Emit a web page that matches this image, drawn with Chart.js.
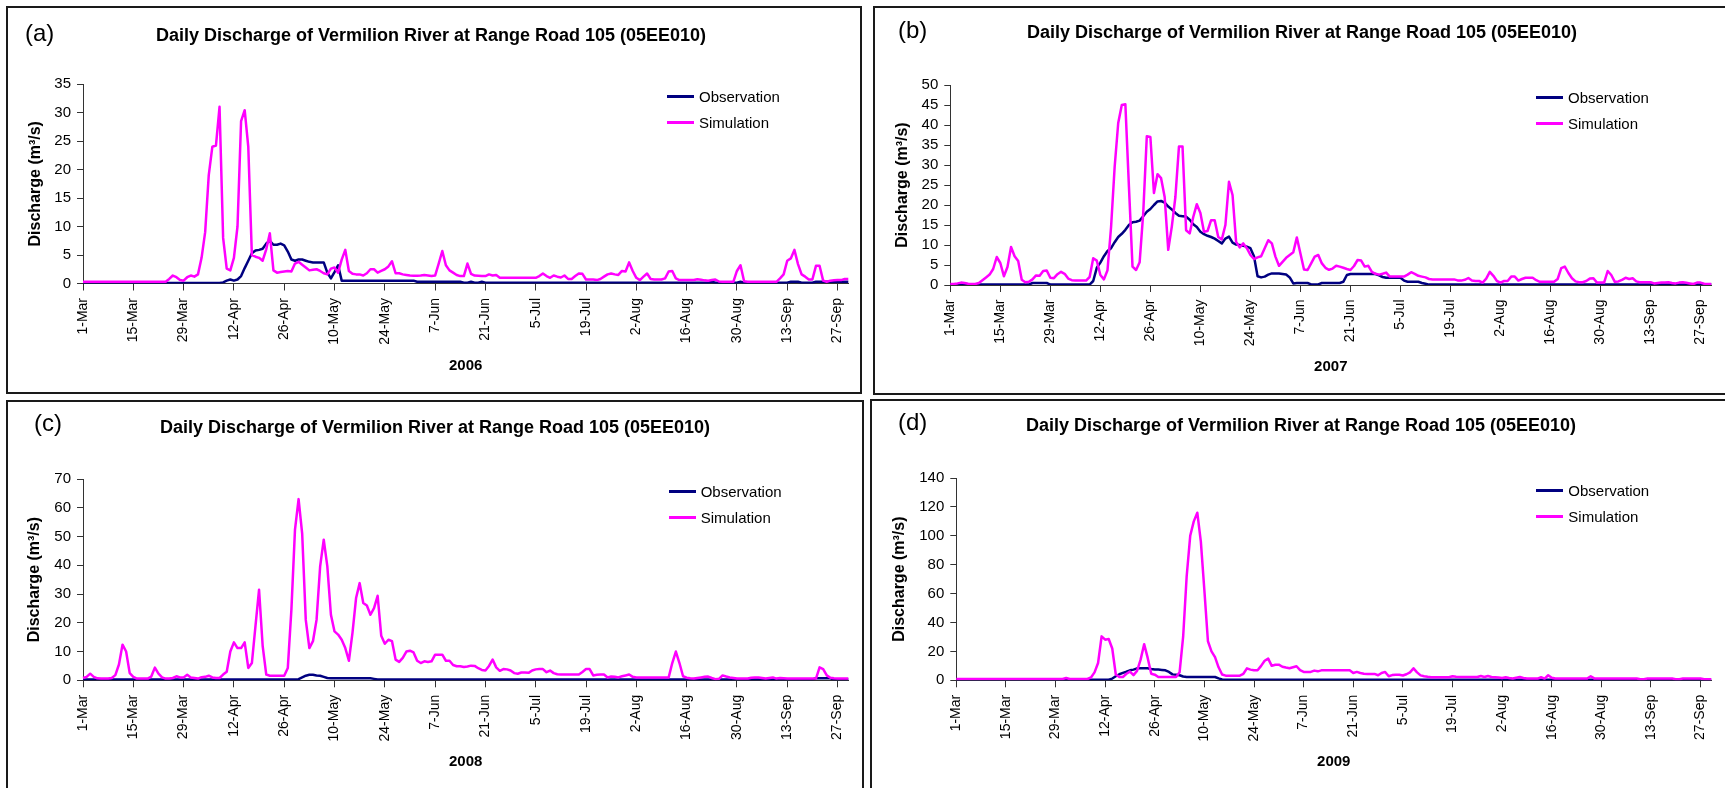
<!DOCTYPE html>
<html>
<head>
<meta charset="utf-8">
<title>Daily Discharge of Vermilion River at Range Road 105 (05EE010)</title>
<script src="https://cdn.jsdelivr.net/npm/chart.js@4.4.1/dist/chart.umd.min.js"></script>
<style>
  html, body { margin: 0; padding: 0; background: #fff; }
  body { width: 1725px; height: 788px; overflow: hidden; position: relative;
         font-family: "Liberation Sans", Arial, sans-serif; color: #000; }
  .frame { position: absolute; box-sizing: border-box; border: 2px solid #1a1a1a; }
  canvas { position: absolute; }
  .tag { position: absolute; font-size: 24px; line-height: 28px; white-space: nowrap; }
  .title { position: absolute; width: 800px; text-align: center; font-size: 18px; font-weight: bold;
           line-height: 22px; white-space: nowrap; }
  .key-line { position: absolute; width: 27px; height: 3px; }
  .key-text { position: absolute; font-size: 15px; line-height: 18px; white-space: nowrap; }
</style>
</head>
<body>
<div class="frame" style="left:6px;top:6px;width:856px;height:388px"></div>
<div class="frame" style="left:873px;top:6px;width:900px;height:389px"></div>
<div class="frame" style="left:6px;top:400px;width:858px;height:420px"></div>
<div class="frame" style="left:870px;top:399px;width:900px;height:420px"></div>
<script>
// Season axis: 1 March to 30 September, one category per day
const months = ['Mar', 'Apr', 'May', 'Jun', 'Jul', 'Aug', 'Sep'];
const monthLengths = [31, 30, 31, 30, 31, 31, 30];
const tickEvery = 14; // a labelled tick every two weeks

const dayLabels = [];
months.forEach((m, k) => {
  for (let d = 1; d <= monthLengths[k]; d++) dayLabels.push(d + '-' + m);
});

// Daily discharge (m3/s), station 05EE010
const obs2006 = [
  0.1,0.1,0.1,0.1,0.1,0.1,0.1,0.1,0.1,0.1,0.1,0.1,0.1,0.1,
  0.1,0.1,0.1,0.1,0.1,0.1,0.1,0.1,0.1,0.1,0.1,0.1,0.1,0.1,
  0.1,0.1,0.1,0.1,0.1,0.1,0.1,0.1,0.1,0.1,0.1,0.2,0.5,0.7,
  0.5,0.7,1.3,2.7,4,5.3,5.8,5.9,6.1,7,7.5,6.8,6.8,7,
  6.7,5.6,4.2,4,4.2,4.2,4,3.8,3.7,3.7,3.7,3.7,1.9,0.9,
  2,3.2,0.5,0.5,0.5,0.5,0.5,0.5,0.5,0.5,0.5,0.5,0.5,0.5,
  0.5,0.5,0.5,0.5,0.5,0.5,0.5,0.5,0.5,0.3,0.3,0.3,0.3,0.3,
  0.3,0.3,0.3,0.3,0.3,0.3,0.3,0.3,0.15,0.15,0.3,0.15,0.15,0.3,
  0.15,0.15,0.15,0.15,0.15,0.15,0.15,0.15,0.15,0.15,0.15,0.15,0.15,0.15,
  0.12,0.12,0.12,0.12,0.12,0.12,0.12,0.12,0.12,0.12,0.12,0.12,0.12,0.12,
  0.12,0.12,0.12,0.12,0.12,0.12,0.12,0.12,0.12,0.12,0.12,0.12,0.12,0.12,
  0.12,0.12,0.12,0.12,0.12,0.12,0.12,0.12,0.12,0.12,0.12,0.12,0.12,0.12,
  0.12,0.12,0.12,0.12,0.12,0.12,0.12,0.3,0.12,0.12,0.12,0.12,0.12,0.12,
  0.12,0.3,0.12,0.12,0.12,0.12,0.12,0.12,0.12,0.12,0.12,0.12,0.12,0.12,
  0.12,0.3,0.3,0.3,0.12,0.12,0.12,0.12,0.3,0.3,0.3,0.3,0.3,0.3,
  0.3,0.3,0.3,0.3
];
const sim2006 = [
  0.3,0.3,0.3,0.3,0.3,0.3,0.3,0.3,0.3,0.3,0.3,0.3,0.3,0.3,
  0.3,0.3,0.3,0.3,0.3,0.3,0.3,0.3,0.3,0.3,0.8,1.4,1.1,0.6,
  0.5,1.1,1.4,1.2,1.6,4.5,9,19,24,24.2,31,8,2.6,2.3,
  4.5,10,28.5,30.4,24,5,4.7,4.5,4,6,8.8,2.3,1.9,2,
  2.1,2.2,2.1,3.5,3.8,3.3,2.8,2.3,2.4,2.5,2.2,1.8,1.6,2.6,
  2.8,1.9,4.2,5.9,2.2,1.7,1.6,1.6,1.4,1.8,2.5,2.5,1.9,2.2,
  2.5,3,3.9,1.8,1.8,1.6,1.5,1.4,1.35,1.35,1.4,1.5,1.4,1.3,
  1.4,3.5,5.7,3.2,2.3,1.9,1.5,1.3,1.3,3.5,1.7,1.4,1.35,1.3,
  1.3,1.6,1.4,1.5,1,1,1,1,1,1,1,1,1,1,
  1,1.3,1.75,1.3,1,1.4,1.2,1.05,1.4,0.8,0.8,1.3,1.75,1.7,
  0.7,0.7,0.7,0.6,0.8,1.2,1.6,1.75,1.6,1.5,2.2,2.1,3.7,2.2,
  1,0.6,1.2,1.75,0.8,0.7,0.7,0.7,0.9,2.1,2.2,0.9,0.6,0.6,
  0.6,0.6,0.6,0.75,0.65,0.55,0.5,0.6,0.7,0.35,0.3,0.3,0.3,0.3,
  2.2,3.2,0.4,0.3,0.3,0.3,0.3,0.3,0.3,0.3,0.3,0.3,0.9,1.6,
  4,4.4,5.9,3.4,1.6,1.2,0.7,0.7,3.1,3.1,0.5,0.3,0.5,0.55,
  0.6,0.6,0.8,0.8
];

const obs2007 = [
  0.1,0.1,0.1,0.1,0.1,0.1,0.1,0.1,0.1,0.1,0.1,0.1,0.1,0.1,
  0.1,0.1,0.1,0.1,0.1,0.1,0.1,0.1,0.1,0.5,0.5,0.5,0.5,0.5,
  0.1,0.1,0.1,0.1,0.1,0.1,0.1,0.1,0.1,0.1,0.1,0.1,1,4.3,
  5.6,7.2,8.5,9.2,10.7,12,12.8,13.8,15,15.7,15.8,16.1,17.2,18.3,
  19,20,20.9,21,20.6,19.6,18.9,18,17.3,17.2,17.1,16.3,15.2,14.5,
  13.3,12.7,12.3,12,11.6,11,10.4,11.6,12.1,10.6,10.1,10,9.8,9.6,
  9.2,7.2,2.2,1.9,2.1,2.6,2.9,2.9,2.9,2.75,2.6,1.9,0.4,0.5,
  0.5,0.5,0.5,0.15,0.15,0.15,0.5,0.5,0.5,0.5,0.5,0.5,0.8,2.5,
  2.75,2.75,2.75,2.75,2.75,2.75,2.75,2.75,2.4,2,1.8,1.8,1.8,1.8,
  1.8,1.1,0.8,0.8,0.8,0.8,0.5,0.3,0.1,0.1,0.1,0.1,0.1,0.1,
  0.1,0.1,0.1,0.1,0.1,0.1,0.1,0.1,0.1,0.1,0.1,0.1,0.1,0.1,
  0.1,0.1,0.1,0.1,0.1,0.1,0.1,0.1,0.1,0.1,0.1,0.1,0.1,0.1,
  0.1,0.1,0.1,0.1,0.1,0.1,0.1,0.1,0.1,0.1,0.1,0.1,0.1,0.1,
  0.1,0.1,0.1,0.1,0.1,0.1,0.1,0.1,0.1,0.1,0.1,0.1,0.1,0.1,
  0.1,0.1,0.1,0.1,0.1,0.1,0.1,0.1,0.1,0.1,0.1,0.1,0.1,0.1,
  0.1,0.1,0.1,0.1
];
const sim2007 = [
  0.25,0.25,0.4,0.6,0.5,0.3,0.25,0.25,0.5,1.2,1.9,2.6,4,7,
  5.5,2.2,4.5,9.5,7.2,6,1.3,0.7,0.8,1.4,2.4,2.3,3.5,3.6,
  1.8,1.7,2.7,3.3,2.8,1.6,1.2,1.1,1.1,1.1,1.1,2,6.7,6.1,
  2.5,1.4,3.7,14.5,29.5,40.5,45,45.2,24.6,4.6,3.75,5.7,18,37.2,
  37,23,27.7,26.7,22,8.8,14.6,22,34.6,34.6,13.7,12.9,17,20.2,
  18,13.3,13.5,16.2,16.2,12,11.4,15,25.8,22.5,10.8,9.4,10.4,9.2,
  7.5,6.5,6.9,7.2,9.2,11.2,10.4,7.1,4.8,5.8,6.8,7.5,8.2,11.9,
  7.9,3.9,3.75,5.4,7.1,7.5,5.4,4.3,3.8,4.1,4.8,4.6,4.3,4,
  3.75,4.75,6.25,6.1,4.6,4.8,3.3,2.8,2.6,2.8,3.1,2.1,2.1,2.1,
  2.1,2.1,2.6,3.2,2.8,2.3,2.1,1.9,1.5,1.4,1.4,1.4,1.4,1.4,
  1.4,1.4,1.15,1.1,1.3,1.75,1.1,1,1,0.6,1.6,3.3,2.3,1,
  0.6,1,1,2.1,2.1,1.1,1.5,1.8,1.8,1.8,1.2,0.8,0.8,0.8,
  0.8,0.8,1.5,4.2,4.6,3,1.7,0.9,0.7,0.7,1,1.6,1.7,0.6,
  0.6,0.6,3.5,2.5,0.8,0.9,1.3,1.8,1.5,1.7,0.9,0.7,0.7,0.7,
  0.7,0.4,0.5,0.6,0.65,0.7,0.5,0.4,0.6,0.7,0.55,0.4,0.25,0.6,
  0.6,0.3,0.25,0.25
];

const obs2008 = [
  0.3,0.3,0.3,0.3,0.3,0.3,0.3,0.3,0.3,0.3,0.3,0.3,0.3,0.3,
  0.3,0.3,0.3,0.3,0.3,0.3,0.3,0.3,0.3,0.3,0.3,0.3,0.3,0.3,
  0.3,0.3,0.3,0.3,0.3,0.3,0.3,0.3,0.3,0.3,0.3,0.3,0.3,0.3,
  0.3,0.3,0.3,0.3,0.3,0.3,0.3,0.3,0.3,0.3,0.3,0.3,0.3,0.3,
  0.3,0.3,0.3,0.3,0.4,1,1.6,1.9,1.9,1.7,1.6,1.2,0.8,0.7,
  0.7,0.7,0.7,0.7,0.7,0.7,0.7,0.7,0.7,0.7,0.7,0.5,0.3,0.3,
  0.3,0.3,0.3,0.3,0.3,0.3,0.3,0.3,0.3,0.3,0.3,0.3,0.3,0.3,
  0.3,0.3,0.3,0.3,0.3,0.3,0.3,0.3,0.3,0.3,0.3,0.3,0.3,0.3,
  0.3,0.3,0.3,0.3,0.3,0.3,0.3,0.3,0.3,0.3,0.3,0.3,0.3,0.3,
  0.3,0.3,0.3,0.3,0.3,0.3,0.3,0.3,0.3,0.3,0.3,0.3,0.3,0.3,
  0.3,0.3,0.3,0.3,0.3,0.3,0.3,0.3,0.3,0.3,0.3,0.3,0.3,0.3,
  0.3,0.3,0.3,0.3,0.3,0.3,0.3,0.3,0.3,0.3,0.3,0.3,0.3,0.3,
  0.3,0.3,0.3,0.3,0.3,0.3,0.3,0.3,0.3,0.3,0.3,0.3,0.3,0.3,
  0.3,0.3,0.3,0.3,0.3,0.3,0.3,0.3,0.3,0.3,0.3,0.3,0.3,0.3,
  0.3,0.3,0.3,0.3,0.3,0.3,0.3,0.3,0.7,0.7,0.7,0.7,0.7,0.3,
  0.3,0.3,0.3,0.3
];
const sim2008 = [
  0.8,1.2,2.3,1.2,0.7,0.6,0.6,0.6,0.8,1.8,5.5,12.4,10,2.5,
  1.2,0.6,0.6,0.6,0.6,1.3,4.4,2.3,1,0.6,0.6,0.8,1.4,1,
  1,1.9,1,0.8,0.6,1.1,1.2,1.6,1,0.8,0.8,2,3,10,
  13.2,11.2,11.2,13.2,4.3,6,18.8,31.5,12,2,1.6,1.6,1.6,1.6,
  1.6,4.3,24.6,52.4,63,51,21,11.2,13.6,21,39.6,48.9,39.6,22.8,
  17,15.9,14.1,11.2,6.8,16.5,28.6,33.8,26.9,26,22.8,25.1,29.4,15.5,
  12.7,14.1,13.6,7.2,6.4,7.8,10,10.3,9.7,6.8,6,6.6,6.4,6.6,
  8.9,8.9,8.9,6.8,6.8,5.3,4.9,4.9,4.6,4.8,5.1,5,4.2,3.6,
  3.4,5,7.2,4.5,3.3,3.9,3.8,3.4,2.5,2.3,2.7,2.7,2.6,3.4,
  3.8,3.9,3.9,2.8,3.4,2.5,2.1,2,2,2,2,2,2,2.9,
  3.9,3.9,1.7,1.9,2,2,1,1.3,1.2,1,1.4,1.7,2,1.2,
  1,1,1,1,1,1,1,1,1,1,6,10,6,1.4,
  0.9,0.7,0.6,0.8,1,1.2,1.3,0.8,0.4,0.5,1.7,1.3,1,0.8,
  0.6,0.6,0.6,0.6,0.9,1,1,0.8,0.6,0.8,1,0.6,0.8,0.7,
  0.6,0.6,0.6,0.6,0.6,0.6,0.6,0.6,0.6,4.5,3.9,1.7,0.9,0.7,
  0.6,0.6,0.6,0.6
];

const obs2009 = [
  0.4,0.4,0.4,0.4,0.4,0.4,0.4,0.4,0.4,0.4,0.4,0.4,0.4,0.4,
  0.4,0.4,0.4,0.4,0.4,0.4,0.4,0.4,0.4,0.4,0.4,0.4,0.4,0.4,
  0.4,0.4,0.4,0.4,0.4,0.4,0.4,0.4,0.4,0.4,0.4,0.4,0.4,0.4,
  0.4,0.4,1.2,2.8,4.2,5.1,5.9,6.9,7.4,8.3,8.3,8.3,8.3,7.8,
  7.4,7.4,7.2,6.9,5.8,4.1,3.9,3.5,2.6,2.3,2.3,2.3,2.3,2.3,
  2.3,2.3,2.3,2.3,1.3,0.6,0.4,0.4,0.4,0.4,0.4,0.4,0.4,0.4,
  0.4,0.4,0.4,0.4,0.4,0.4,0.4,0.4,0.4,0.4,0.4,0.4,0.4,0.4,
  0.4,0.4,0.4,0.4,0.4,0.4,0.4,0.4,0.4,0.4,0.4,0.4,0.4,0.4,
  0.4,0.4,0.4,0.4,0.4,0.4,0.4,0.4,0.4,0.4,0.4,0.4,0.4,0.4,
  0.4,0.4,0.4,0.4,0.4,0.4,0.4,0.4,0.4,0.4,0.4,0.4,0.4,0.4,
  0.4,0.4,0.4,0.4,0.4,0.4,0.4,0.4,0.4,0.4,0.4,0.4,0.4,0.4,
  0.4,0.4,0.4,0.4,0.4,0.4,0.4,0.4,0.4,0.4,0.4,0.4,0.4,0.4,
  0.4,0.4,0.4,0.4,0.4,0.4,0.4,0.4,0.4,0.4,0.4,0.4,0.4,0.4,
  0.4,0.4,0.4,0.4,0.4,0.4,0.4,0.4,0.4,0.4,0.4,0.4,0.4,0.4,
  0.4,0.4,0.4,0.4,0.4,0.4,0.4,0.4,0.4,0.4,0.4,0.4,0.4,0.4,
  0.4,0.4,0.4,0.4
];
const sim2009 = [
  0.9,0.9,0.9,0.9,0.9,0.9,0.9,0.9,0.9,0.9,0.9,0.9,0.9,0.9,
  0.9,0.9,0.9,0.9,0.9,0.9,0.9,0.9,0.9,0.9,0.9,0.9,0.9,0.9,
  0.9,0.9,0.9,1.6,0.9,0.9,0.9,0.9,0.9,0.9,2,5.5,12,30.4,
  28.1,28.6,22,4,2.3,2.3,4.5,6,3.6,6.5,14.3,25,15.5,4.5,
  3.9,2.3,2.3,2.3,2.3,2.3,2.3,5.5,30,72,100,110,116,96,
  62,27,20,16,9,4,3.2,3.2,3.2,3.2,3.2,4.5,8.3,7.4,
  6.9,6.9,10,13.5,15,10,10.8,10.8,9.4,8.8,8.3,9,9.7,7,
  5.8,5.8,5.8,6.7,6.2,6.9,6.9,6.9,6.9,6.9,6.9,6.9,6.9,6.9,
  5.1,5.8,5.1,4.6,4.4,4.4,4.4,3.5,5.1,5.8,2.8,3.6,3.9,3.9,
  3.3,4.2,5.5,8.3,5.5,3.4,2.8,2.4,2.1,2.1,2.1,2.1,2.1,2.1,
  2.8,2.4,2.3,2.3,2.3,2.3,2.3,2.3,3,2.3,3,2.3,2.1,1.9,
  1.6,2.1,1.6,1.2,1.8,2.3,1.6,1.2,1.2,1.2,1.2,2.1,1.2,3.5,
  1.8,1.2,1.2,1.2,1.2,1.2,1.2,1.2,1.2,1.2,1.2,2.8,1.3,1.2,
  1.2,1.2,1.2,1.2,1.2,1.2,1.2,1.2,1.2,1.2,1.2,0.8,0.8,1.2,
  1.2,1.2,1.2,1.2,1.2,1.2,1.2,0.8,0.8,1.2,1.2,1.2,1.2,1.2,
  1.2,0.8,0.8,0.8
];

const seriesNames = ['Observation', 'Simulation'];
const seriesColors = ['#000080', '#ff00ff'];
const chartTitle = 'Daily Discharge of Vermilion River at Range Road 105 (05EE010)';
const yAxisTitle = 'Discharge (m\u00b3/s)';

// One entry per season panel: data sources plus the panel's placement on the page
const panels = [
  { tag: '(a)', year: '2006', obs: obs2006, sim: sim2006, yMax: 35, yStep: 5,
    box: { x: 0, y: 0, w: 862, h: 393 }, plot: { left: 83, top: 84, right: 13, axisH: 109.5 },
    yTitleX: 35.5, xTitleFromBottom: 27,
    tagPos: { x: 25, y: 19 }, titlePos: { cx: 431, y: 23.7 }, key: { x: 667, y: 96.7 } },
  { tag: '(b)', year: '2007', obs: obs2007, sim: sim2007, yMax: 50, yStep: 5,
    box: { x: 862, y: 0, w: 863, h: 393 }, plot: { left: 88.3, top: 85, right: 8.5, axisH: 108 },
    yTitleX: 40.8, xTitleFromBottom: 26.3,
    tagPos: { x: 898, y: 15.7 }, titlePos: { cx: 1302, y: 20.9 }, key: { x: 1536, y: 97.7 } },
  { tag: '(c)', year: '2008', obs: obs2008, sim: sim2008, yMax: 70, yStep: 10,
    box: { x: 0, y: 393, w: 862, h: 395 }, plot: { left: 83, top: 86, right: 11.2, axisH: 107.7 },
    yTitleX: 35, xTitleFromBottom: 25.7,
    tagPos: { x: 34, y: 408.5 }, titlePos: { cx: 435, y: 416.2 }, key: { x: 668.7, y: 491.7 } },
  { tag: '(d)', year: '2009', obs: obs2009, sim: sim2009, yMax: 140, yStep: 20,
    box: { x: 862, y: 393, w: 863, h: 395 }, plot: { left: 94.3, top: 85, right: 8, axisH: 107.7 },
    yTitleX: 37.8, xTitleFromBottom: 25.7,
    tagPos: { x: 898, y: 408 }, titlePos: { cx: 1301, y: 414.4 }, key: { x: 1536.3, y: 490.7 } }
];

Chart.defaults.font.family = '"Liberation Sans", Arial, sans-serif';
Chart.defaults.color = '#000';

function addText(cls, text, x, y) {
  const el = document.createElement('div');
  el.className = cls;
  el.textContent = text;
  el.style.left = x + 'px';
  el.style.top = y + 'px';
  document.body.appendChild(el);
  return el;
}

function buildPanel(p) {
  const cv = document.createElement('canvas');
  cv.width = p.box.w;
  cv.height = p.box.h;
  cv.style.left = p.box.x + 'px';
  cv.style.top = p.box.y + 'px';
  document.body.appendChild(cv);

  const axisColor = '#333';
  const chart = new Chart(cv, {
    type: 'line',
    data: {
      labels: dayLabels,
      datasets: [
        { label: seriesNames[0], data: p.obs, borderColor: seriesColors[0], backgroundColor: seriesColors[0],
          borderWidth: 2.5, pointRadius: 0, tension: 0, borderJoinStyle: 'round', order: 1 },
        { label: seriesNames[1], data: p.sim, borderColor: seriesColors[1], backgroundColor: seriesColors[1],
          borderWidth: 2.5, pointRadius: 0, tension: 0, borderJoinStyle: 'round', order: 0 }
      ]
    },
    options: {
      responsive: false,
      animation: false,
      devicePixelRatio: 1,
      events: [],
      layout: { padding: { left: 0, top: p.plot.top, right: p.plot.right, bottom: 0 } },
      plugins: { legend: { display: false }, tooltip: { enabled: false }, title: { display: false } },
      scales: {
        x: {
          type: 'category',
          offset: false,
          grid: { drawOnChartArea: false, drawTicks: true, tickLength: 7, color: axisColor, lineWidth: 1 },
          border: { display: true, color: axisColor, width: 1 },
          ticks: {
            autoSkip: false, minRotation: 90, maxRotation: 90, padding: 7.5, color: '#000',
            font: { size: 14 },
            callback(value, index) { return index % tickEvery === 0 ? this.getLabelForValue(value) : null; }
          },
          title: { display: true, text: p.year, color: '#000', font: { size: 15, weight: 'bold' },
                   padding: { top: 0, bottom: p.xTitleFromBottom - 9 } },
          afterFit(scale) { scale.height = p.plot.axisH; }
        },
        y: {
          min: 0, max: p.yMax,
          grid: { drawOnChartArea: false, drawTicks: true, tickLength: 6, color: axisColor, lineWidth: 1 },
          border: { display: true, color: axisColor, width: 1 },
          ticks: { stepSize: p.yStep, autoSkip: false, padding: 6, color: '#000', font: { size: 15 } },
          title: { display: true, text: yAxisTitle, color: '#000', font: { size: 16, weight: 'bold' },
                   padding: { top: p.yTitleX - 9.6, bottom: 0 } },
          afterFit(scale) { scale.width = p.plot.left; }
        }
      }
    }
  });

  // panel letter and heading
  addText('tag', p.tag, p.tagPos.x, p.tagPos.y);
  addText('title', chartTitle, p.titlePos.cx - 400, p.titlePos.y);

  // legend built from the chart's own datasets, placed in the upper right of the plot
  chart.data.datasets.forEach((ds, k) => {
    const cy = p.key.y + k * 26;
    const line = document.createElement('div');
    line.className = 'key-line';
    line.style.left = p.key.x + 'px';
    line.style.top = (cy - 1.5) + 'px';
    line.style.background = ds.borderColor;
    document.body.appendChild(line);
    addText('key-text', ds.label, p.key.x + 32, cy - 9);
  });
}

panels.forEach(buildPanel);
</script>
</body>
</html>
